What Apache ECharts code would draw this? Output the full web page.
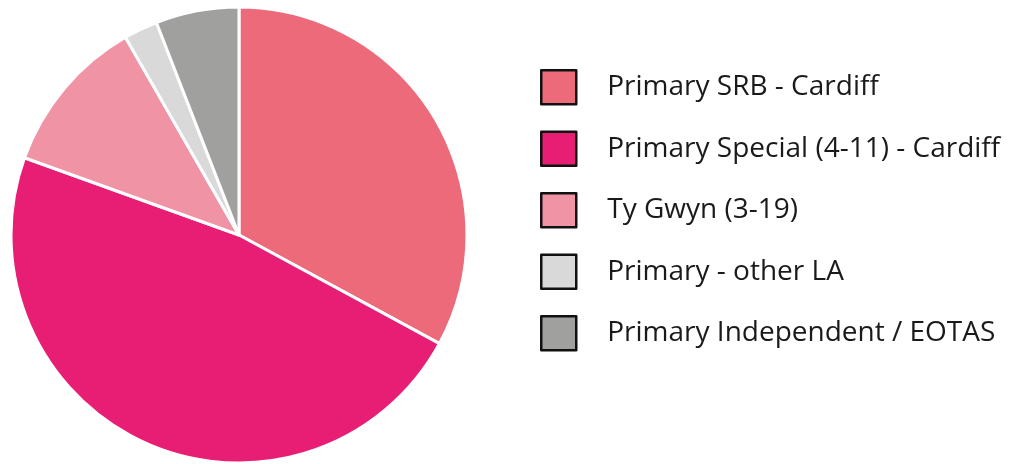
<!DOCTYPE html>
<html><head><meta charset="utf-8">
<script src="https://cdn.jsdelivr.net/npm/echarts@6/dist/echarts.min.js"></script>
<style>html,body{margin:0;padding:0;background:#fff}#c{width:1018px;height:464px}</style>
</head><body><div id="c"></div>
<script>
const categories = ["Primary SRB - Cardiff", "Primary Special (4-11) - Cardiff", "Ty Gwyn (3-19)", "Primary - other LA", "Primary Independent / EOTAS"];
const values = [32.9, 47.6, 11.2, 2.4, 5.9];
const colors = ["#EC6A7A", "#E81E74", "#F093A4", "#D9D9D9", "#A0A09F"];
const chart = echarts.init(document.getElementById('c'));
chart.setOption({
  animation: false,
  legend: {
    orient: 'vertical', left: 540, top: 69, padding: 0,
    itemWidth: 35, itemHeight: 34, itemGap: 25,
    icon: 'rect',
    itemStyle: { borderColor: '#111', borderWidth: 2.5 },
    textStyle: { fontFamily: 'Open Sans', fontSize: 28, color: '#1a1a1a', padding: [0, 0, 0, 26] },
    data: categories
  },
  series: [{
    type: 'pie', center: [239, 235], radius: [0, 228],
    startAngle: 90, clockwise: true,
    label: { show: false }, labelLine: { show: false },
    itemStyle: { borderColor: '#fff', borderWidth: 3 },
    data: categories.map((n, i) => ({ name: n, value: values[i], itemStyle: { color: colors[i] } }))
  }]
});
</script></body></html>
